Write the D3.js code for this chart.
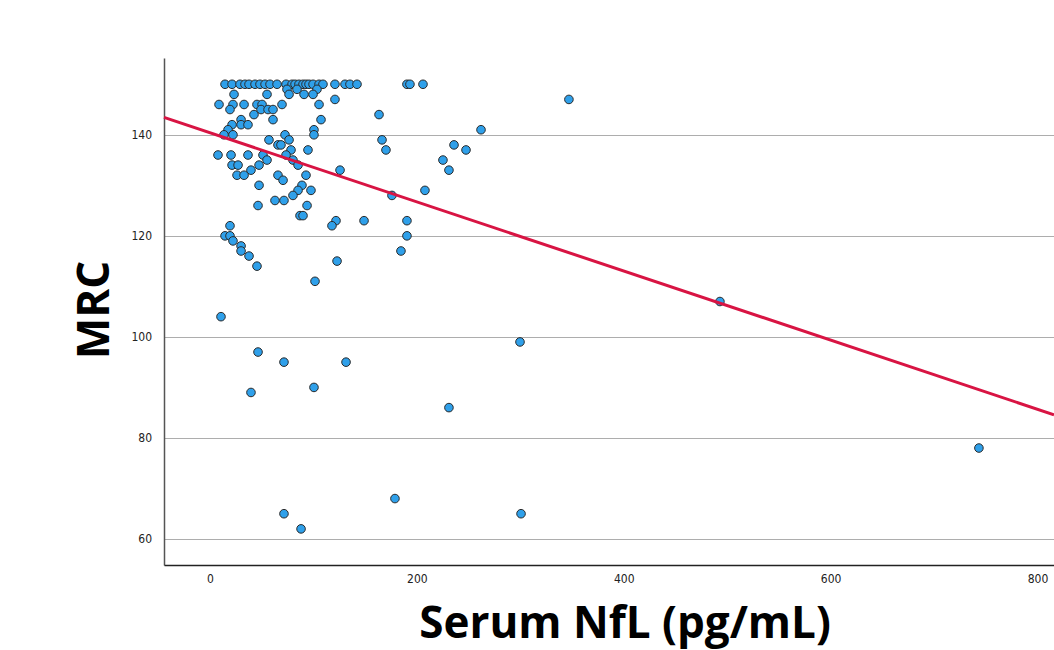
<!DOCTYPE html>
<html>
<head>
  <meta charset="utf-8">
  <title>MRC vs Serum NfL</title>
  <script src="https://cdn.jsdelivr.net/npm/d3@7"></script>
  <style>
    body { margin: 0; background: #fff; }
    .grid line { stroke: #adadad; stroke-width: 1; }
    .tick text { font-family: "Liberation Sans Narrow", "DejaVu Sans Condensed", sans-serif; font-size: 12px; fill: #222; }
    .axis-title { font-family: "Open Sans", "DejaVu Sans", sans-serif; font-weight: bold; fill: #000; }
  </style>
</head>
<body>
  <svg id="chart" width="1054" height="650"></svg>

  <script>
    // serum NfL (pg/mL) readings, one per subject
    var nfl = [
      14.5, 21.3, 29, 33.8, 37.7, 43.5, 48.3, 53.2, 58, 64.8, 73.5, 79.3, 82.2, 86, 89.9, 92.8, 95.7, 99.6, 105.4, 109.2, 120.8, 130.5, 135.3, 142.1, 190.4, 193.3, 205.9,
      74.4, 103.4, 23.2, 55.1, 76.4, 84.1, 90.9, 99.6,
      120.8, 347,
      8.7, 22.2, 32.9, 45.4, 50.3, 69.6, 105.4,
      19.3, 49.3, 56.1, 60.9,
      42.5, 163.4,
      30, 60.9, 107.3,
      21.3, 30, 36.7,
      17.4, 100.5, 262,
      13.5, 22.2, 72.5, 100.5,
      57, 76.4, 166.3,
      65.7, 68.6, 235.9,
      78.3, 94.7, 170.1, 247.5,
      7.7, 20.3, 36.7, 51.2, 73.5,
      55.1, 80.2, 225.2,
      21.3, 27.1, 47.4, 85.1,
      125.7, 231, 39.6,
      26.1, 32.9, 65.7, 92.8,
      70.6,
      47.4, 88.9,
      85.1, 97.6, 207.8,
      80.2, 175.9,
      62.8, 71.5,
      46.4, 93.8,
      87, 89.9,
      121.8, 148.9, 190.4,
      19.3, 117.9,
      14.5, 19.3, 190.4,
      22.2, 30, 30, 184.6, 37.7, 122.8, 45.4, 101.5,
      493, 10.6, 299.7, 46.4, 71.5, 131.5, 100.5, 39.6, 231, 743.4,
      178.8, 71.5, 300.7, 88
    ];

    // MRC sum score, same order as nfl
    var mrc = [
      150, 150, 150, 150, 150, 150, 150, 150, 150, 150, 150, 150, 150, 150, 150, 150, 150, 150, 150, 150, 150, 150, 150, 150, 150, 150, 150,
      149, 149, 148, 148, 148, 149, 148, 148,
      147, 147,
      146, 146, 146, 146, 146, 146, 146,
      145, 145, 145, 145,
      144, 144,
      143, 143, 143,
      142, 142, 142,
      141, 141, 141,
      140, 140, 140, 140,
      139, 139, 139,
      138, 138, 138,
      137, 137, 137, 137,
      136, 136, 136, 136, 136,
      135, 135, 135,
      134, 134, 134, 134,
      133, 133, 133,
      132, 132, 132, 132,
      131,
      130, 130,
      129, 129, 129,
      128, 128,
      127, 127,
      126, 126,
      124, 124,
      123, 123, 123,
      122, 122,
      120, 120, 120,
      119, 118, 117, 117, 116, 115, 114, 111,
      107, 104, 99, 97, 95, 95, 90, 89, 86, 78,
      68, 65, 65, 62
    ];

    // linear fit: intercept, slope
    var fit = [140.4, -0.0684];

    var yTicks = [60, 80, 100, 120, 140];
    var xTicks = [0, 200, 400, 600, 800];

    var svg = d3.select('#chart'),
      width = +svg.attr('width'),
      height = +svg.attr('height');

    var margin = { top: 58, right: 0, bottom: 85, left: 164 };

    var x = d3.scaleLinear()
      .domain([-44.5, 816])
      .range([margin.left, width - margin.right]);

    var y = d3.scaleLinear()
      .domain([54.85, 155.2])
      .range([height - margin.bottom, margin.top]);

    // horizontal grid lines
    svg.append('g')
      .attr('class', 'grid')
      .selectAll('line')
      .data(yTicks)
      .enter()
      .append('line')
      .attr('x1', margin.left)
      .attr('x2', width)
      .attr('y1', d => Math.round(y(d)) + 0.5)
      .attr('y2', d => Math.round(y(d)) + 0.5);

    // y axis
    var yAxis = svg.append('g')
      .attr('transform', 'translate(' + margin.left + ',0)')
      .call(d3.axisLeft(y).tickValues(yTicks).tickSize(0).tickPadding(12));
    yAxis.select('.domain').attr('stroke', '#555').attr('stroke-width', 1.5);

    // x axis
    var xAxis = svg.append('g')
      .attr('transform', 'translate(0,' + (height - margin.bottom) + ')')
      .call(d3.axisBottom(x).tickValues(xTicks).tickSize(0).tickPadding(9));
    xAxis.select('.domain').attr('stroke', '#222').attr('stroke-width', 1.5);

    // points
    svg.append('g')
      .selectAll('circle')
      .data(nfl.map((d, i) => [d, mrc[i]]))
      .enter()
      .append('circle')
      .attr('cx', d => x(d[0]))
      .attr('cy', d => y(d[1]))
      .attr('r', 4.3)
      .attr('fill', '#2fa0ea')
      .attr('stroke', '#2a2a2a')
      .attr('stroke-width', 1);

    // fit line across the whole x range
    var xd = x.domain();
    svg.append('line')
      .attr('x1', x(xd[0]))
      .attr('y1', y(fit[0] + fit[1] * xd[0]))
      .attr('x2', x(xd[1]))
      .attr('y2', y(fit[0] + fit[1] * xd[1]))
      .attr('stroke', '#d81443')
      .attr('stroke-width', 3);

    // axis titles
    svg.append('text')
      .attr('class', 'axis-title')
      .attr('font-size', 44)
      .attr('text-anchor', 'middle')
      .attr('transform', 'translate(109,310) rotate(-90)')
      .text('MRC');

    svg.append('text')
      .attr('class', 'axis-title')
      .attr('font-size', 44)
      .attr('text-anchor', 'middle')
      .attr('x', 625)
      .attr('y', 638)
      .text('Serum NfL (pg/mL)');
  </script>
</body>
</html>
